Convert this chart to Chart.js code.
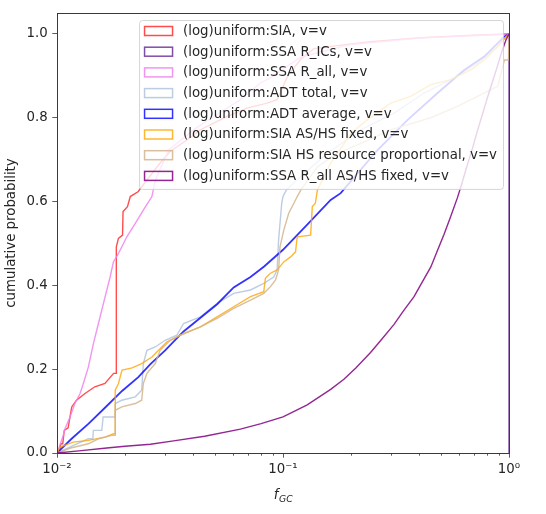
<!DOCTYPE html>
<html>
<head>
<meta charset="utf-8">
<script src="https://cdn.jsdelivr.net/npm/chart.js@4.4.0/dist/chart.umd.min.js"></script>
<style>
  html, body { margin: 0; padding: 0; background: #fff; }
  #wrap { width: 546px; height: 514px; }
</style>
</head>
<body>
<div id="wrap"><canvas id="cdf"></canvas></div>
<script>
// cumulative distributions of f_GC, points as [x, y]
var sia = [[0.01,0],[0.0102,0],[0.0104,0.022],[0.0106,0.022],[0.01077,0.054],[0.0112,0.06],[0.01162,0.11],[0.0122,0.126],
  [0.0133,0.142],[0.0147,0.158],[0.0163,0.166],[0.0178,0.19],[0.0183,0.19],[0.0183,0.492],[0.0187,0.512],[0.0195,0.52],
  [0.0196,0.576],[0.0205,0.588],[0.0211,0.612],[0.0229,0.624],[0.0233,0.63],[0.0286,0.692],[0.0317,0.72],[0.0376,0.747],
  [0.0431,0.771],[0.0493,0.787],[0.0565,0.803],[0.0693,0.823],[0.0851,0.835],[0.0942,0.843],[0.105,0.9],[0.12,0.94],
  [0.137,0.965],[0.237,0.981],[0.407,0.991],[0.7,0.997],[1,1]];
var ssaRICs = [[1,0],[1,1]];
var ssaRall = [[0.01,0],[0.0101,0.006],[0.0106,0.038],[0.01085,0.058],[0.01142,0.086],[0.012,0.118],[0.01265,0.142],
  [0.01308,0.166],[0.01377,0.2055],[0.01449,0.261],[0.01525,0.309],[0.01633,0.373],[0.01718,0.42],[0.01777,0.456],
  [0.01871,0.476],[0.02037,0.516],[0.0222,0.548],[0.02414,0.58],[0.0263,0.612],[0.0272,0.651],[0.0312,0.723],
  [0.0402,0.771],[0.0493,0.803],[0.0648,0.843],[0.0794,0.883],[0.088,0.895],[0.12,0.945],[0.2,0.975],[0.4,0.99],[1,1]];
var adtTotal = [[0.01,0],[0.0115,0.015],[0.01377,0.034],[0.0144,0.034],[0.01449,0.054],[0.01578,0.054],[0.016,0.086],
  [0.0181,0.086],[0.0181,0.118],[0.01935,0.126],[0.0222,0.134],[0.0237,0.15],[0.0241,0.2135],[0.025,0.245],[0.0272,0.253],
  [0.0301,0.269],[0.0339,0.281],[0.0363,0.309],[0.0431,0.325],[0.0511,0.357],[0.0605,0.381],[0.0718,0.389],[0.0822,0.405],
  [0.091,0.42],[0.0942,0.437],[0.0956,0.508],[0.0987,0.596],[0.1,0.612],[0.1035,0.628],[0.12,0.66],[0.157,0.715],
  [0.221,0.771],[0.31,0.811],[0.421,0.859],[0.553,0.891],[0.726,0.93],[0.891,0.97],[1,1]];
var adtAverage = [[0.01,0],[0.0116,0.034],[0.0138,0.07],[0.0163,0.108],[0.0194,0.148],[0.0229,0.181],[0.0259,0.212],
  [0.0301,0.245],[0.0363,0.29],[0.0511,0.355],[0.0605,0.395],[0.0718,0.42],[0.0825,0.445],[0.1,0.485],[0.128,0.545],
  [0.1625,0.604],[0.18,0.62],[0.262,0.723],[0.356,0.795],[0.483,0.859],[0.634,0.914],[0.777,0.946],[0.955,0.994],[1,1]];
var siaAsHs = [[0.01,0],[0.01031,0.014],[0.0118,0.026],[0.01377,0.03],[0.0163,0.038],[0.0178,0.046],[0.0181,0.046],
  [0.0181,0.15],[0.0187,0.166],[0.0194,0.198],[0.0215,0.203],[0.0237,0.2135],[0.0263,0.229],[0.0291,0.253],[0.0306,0.265],
  [0.0363,0.285],[0.0431,0.301],[0.0511,0.325],[0.0605,0.349],[0.0718,0.373],[0.0822,0.385],[0.0836,0.417],[0.088,0.429],
  [0.0942,0.437],[0.1008,0.456],[0.108,0.468],[0.1136,0.48],[0.1156,0.516],[0.1325,0.52],[0.1348,0.588],[0.139,0.596],
  [0.142,0.628],[0.1625,0.692],[0.174,0.715],[0.2,0.763],[0.236,0.795],[0.3,0.835],[0.367,0.851],[0.451,0.879],
  [0.553,0.891],[0.678,0.914],[0.777,0.938],[0.891,0.97],[0.986,0.998],[1,1]];
var siaHsProp = [[0.01,0],[0.0115,0.012],[0.01377,0.022],[0.01525,0.034],[0.01748,0.042],[0.0181,0.042],[0.0181,0.102],
  [0.01935,0.11],[0.0222,0.118],[0.0237,0.126],[0.0241,0.166],[0.025,0.19],[0.0272,0.2135],[0.0286,0.245],[0.0317,0.269],
  [0.0351,0.281],[0.0431,0.301],[0.0511,0.321],[0.0605,0.345],[0.0718,0.365],[0.0822,0.381],[0.088,0.397],[0.0927,0.413],
  [0.0956,0.437],[0.097,0.492],[0.1008,0.532],[0.106,0.572],[0.1117,0.596],[0.1156,0.612],[0.12,0.628],[0.142,0.683],
  [0.174,0.715],[0.221,0.739],[0.3,0.771],[0.45,0.8],[0.592,0.827],[0.726,0.851],[0.891,0.875],[0.955,0.938],
  [0.995,0.938],[1,1]];
var ssaRallAsHs = [[0.01,0],[0.0125,0.005],[0.0166,0.012],[0.02,0.016],[0.0259,0.021],[0.0328,0.029],[0.045,0.04],
  [0.0648,0.057],[0.08,0.07],[0.1,0.086],[0.128,0.115],[0.1625,0.152],[0.186,0.176],[0.21,0.203],[0.244,0.24],
  [0.27,0.268],[0.31,0.307],[0.34,0.338],[0.38,0.373],[0.41,0.405],[0.451,0.444],[0.48,0.48],[0.516,0.522],
  [0.55,0.562],[0.592,0.61],[0.62,0.645],[0.656,0.69],[0.69,0.728],[0.726,0.77],[0.765,0.81],[0.805,0.85],
  [0.85,0.89],[0.891,0.925],[0.93,0.958],[0.97,0.986],[1,1]];

var seriesNames = ['(log)uniform:SIA, v=v', '(log)uniform:SSA R_ICs, v=v', '(log)uniform:SSA R_all, v=v',
  '(log)uniform:ADT total, v=v', '(log)uniform:ADT average, v=v', '(log)uniform:SIA AS/HS fixed, v=v',
  '(log)uniform:SIA HS resource proportional, v=v', '(log)uniform:SSA R_all AS/HS fixed, v=v'];
var seriesData = [sia, ssaRICs, ssaRall, adtTotal, adtAverage, siaAsHs, siaHsProp, ssaRallAsHs];
var seriesColors = ['rgba(255,0,0,0.7)', 'rgba(75,0,130,0.7)', 'rgba(238,130,238,0.85)', 'rgba(176,196,222,0.85)',
  'rgba(0,0,255,0.8)', 'rgba(255,165,0,0.8)', 'rgba(210,180,140,0.85)', 'rgba(128,0,128,0.85)'];

var xMajor = [0.01, 0.1, 1];
var xMinor = [0.02,0.03,0.04,0.05,0.06,0.07,0.08,0.09,0.2,0.3,0.4,0.5,0.6,0.7,0.8,0.9];
var xLabels = {'0.01': '10\u207B\u00B2', '0.1': '10\u207B\u00B9', '1': '10\u2070'};
var yTicks = [0, 0.2, 0.4, 0.6, 0.8, 1.0];

var FONT = 'DejaVu Sans';
var FS = 13.33;
var TEXT = '#262626';

var datasets = seriesData.map(function(pts, i){
  return {
    label: seriesNames[i],
    data: pts.map(function(p){ return {x: p[0], y: p[1]}; }),
    borderColor: seriesColors[i],
    backgroundColor: seriesColors[i],
    borderWidth: i == 4 ? 1.8 : 1.4,
    pointRadius: 0,
    showLine: true,
    tension: 0,
    order: seriesData.length - i
  };
});

// short minor ticks on the log axis
var minorTicks = {
  id: 'minorTicks',
  afterDraw: function(chart){
    var ctx = chart.ctx, sx = chart.scales.x, b = chart.chartArea.bottom;
    ctx.save();
    ctx.strokeStyle = '#333';
    ctx.lineWidth = 0.8;
    xMinor.forEach(function(v){
      var px = Math.round(sx.getPixelForValue(v)) + 0.5;
      ctx.beginPath(); ctx.moveTo(px, b); ctx.lineTo(px, b + 2.7); ctx.stroke();
    });
    ctx.restore();
  }
};

// box round the plot, x label with subscript
var frame = {
  id: 'frame',
  afterDatasetsDraw: function(chart){
    var ctx = chart.ctx, a = chart.chartArea;
    ctx.save();
    ctx.strokeStyle = '#3a3a3a';
    ctx.lineWidth = 1;
    ctx.strokeRect(Math.round(a.left) + 0.5, Math.round(a.top) + 0.5, Math.round(a.right - a.left), Math.round(a.bottom - a.top));
    var cx = (a.left + a.right) / 2, by = a.bottom + 46;
    ctx.fillStyle = TEXT;
    ctx.textBaseline = 'alphabetic';
    ctx.font = 'italic ' + FS + 'px "' + FONT + '"';
    var fw = ctx.measureText('f').width;
    ctx.font = 'italic 9.3px "' + FONT + '"';
    var gw = ctx.measureText('GC').width;
    var x0 = cx - (fw + gw) / 2;
    ctx.font = 'italic ' + FS + 'px "' + FONT + '"';
    ctx.fillText('f', x0, by);
    ctx.font = 'italic 9.3px "' + FONT + '"';
    ctx.fillText('GC', x0 + fw + 0.5, by + 3);
    ctx.restore();
  }
};

// legend inside the axes, semi transparent like matplotlib
var legendBox = {
  id: 'legendBox',
  afterDatasetsDraw: function(chart){
    var ctx = chart.ctx, a = chart.chartArea;
    ctx.save();
    ctx.font = FS + 'px "' + FONT + '"';
    var tw = 0;
    seriesNames.forEach(function(n){ tw = Math.max(tw, ctx.measureText(n).width); });
    var w = 44 + tw + 6, rowH = 20.7, h = 11 + rowH * 7 + 13;
    var right = a.right - 6, top = a.top + 7, left = right - w;
    ctx.beginPath();
    ctx.roundRect(left + 0.5, top + 0.5, w, h, 3);
    ctx.fillStyle = 'rgba(255,255,255,0.8)';
    ctx.fill();
    ctx.strokeStyle = 'rgba(204,204,204,0.8)';
    ctx.lineWidth = 1;
    ctx.stroke();
    ctx.textBaseline = 'middle';
    seriesNames.forEach(function(n, i){
      var cy = top + 11 + i * rowH;
      ctx.strokeStyle = seriesColors[i];
      ctx.lineWidth = 1.5;
      ctx.strokeRect(left + 5.5, cy - 4.5, 28, 9);
      ctx.fillStyle = TEXT;
      ctx.fillText(n, left + 44, cy + 0.5);
    });
    ctx.restore();
  }
};

var ctx = document.getElementById('cdf');
var cdfChart = new Chart(ctx, {
  type: 'scatter',
  data: { datasets: datasets },
  plugins: [minorTicks, frame, legendBox],
  options: {
    responsive: true,
    maintainAspectRatio: false,
    animation: false,
    events: [],
    layout: { padding: { top: 13, right: 37, left: 0, bottom: 0 } },
    plugins: { legend: { display: false }, tooltip: { enabled: false } },
    scales: {
      x: {
        type: 'logarithmic',
        min: 0.01,
        max: 1,
        afterFit: function(s){ s.height = 61; },
        afterBuildTicks: function(s){ s.ticks = xMajor.map(function(v){ return {value: v}; }); },
        grid: { drawOnChartArea: false, drawTicks: true, tickLength: 4.7, tickColor: '#333', tickWidth: 0.8 },
        border: { display: false },
        ticks: {
          autoSkip: false, maxRotation: 0, padding: 4, color: TEXT,
          font: { family: FONT, size: FS },
          callback: function(v){ return xLabels[String(v)] || ''; }
        }
      },
      y: {
        min: 0,
        max: 1.05,
        afterFit: function(s){ s.width = 57; },
        afterBuildTicks: function(s){ s.ticks = yTicks.map(function(v){ return {value: v}; }); },
        grid: { drawOnChartArea: false, drawTicks: true, tickLength: 4.7, tickColor: '#333', tickWidth: 0.8 },
        border: { display: false },
        title: { display: true, text: 'cumulative probability', color: TEXT, font: { family: FONT, size: FS }, padding: { top: 4, bottom: 0 } },
        ticks: {
          padding: 4.5, color: TEXT,
          font: { family: FONT, size: FS },
          callback: function(v){ return v.toFixed(1); }
        }
      }
    }
  }
});
</script>
</body>
</html>
